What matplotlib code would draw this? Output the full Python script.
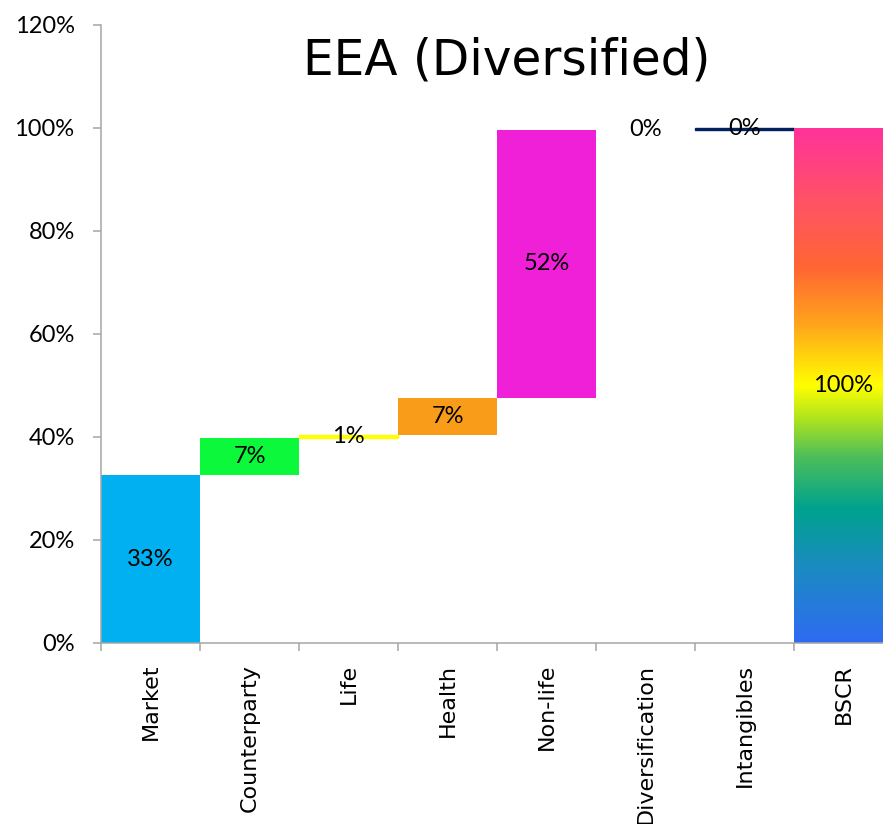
import matplotlib.pyplot as plt
import matplotlib.ticker as mticker
import numpy as np
from matplotlib.colors import LinearSegmentedColormap

# Waterfall of the diversified SCR, shares of BSCR in %
categories = ['Market', 'Counterparty', 'Life', 'Health', 'Non-life',
              'Diversification', 'Intangibles', 'BSCR']
values = [32.6, 7.2, 0.6, 7.1, 52.2, 0.0, 0.3, 100.0]
colors = ['#00B0F0', '#0BF83B', '#FFFF00', '#F99C1A', '#F020D8',
          '#FFFFFF', '#002060', None]

# gradient used for the BSCR total bar (bottom -> top)
rainbow = LinearSegmentedColormap.from_list('rainbow_bar', [
    (0.00, '#2F6BF2'),
    (0.15, '#1A8CC0'),
    (0.26, '#00A28E'),
    (0.36, '#4CBE5A'),
    (0.44, '#B5E61D'),
    (0.50, '#FFFF00'),
    (0.62, '#FFA41C'),
    (0.73, '#FF6633'),
    (0.86, '#FF5266'),
    (1.00, '#FF3399'),
])

fig = plt.figure(figsize=(8.83, 8.24), dpi=100)
ax = fig.add_axes([0.1144, 0.2197, 0.8856, 0.75])

x = np.arange(len(categories))
bottoms = []
running = 0.0
for v in values[:-1]:
    bottoms.append(running)
    running += v
bottoms.append(0.0)

for i, (v, b, c) in enumerate(zip(values, bottoms, colors)):
    if categories[i] == 'BSCR':
        grad = np.linspace(0, 1, 256).reshape(-1, 1)
        ax.imshow(grad, cmap=rainbow, origin='lower', aspect='auto',
                  extent=[i - 0.5, i + 0.5, b, b + v], zorder=2)
    elif categories[i] in ('Intangibles', 'Life'):
        ax.bar(i, v, bottom=b, width=1.0, color=c, edgecolor=c,
               linewidth=1.0, zorder=2)
    elif v > 0:
        ax.bar(i, v, bottom=b, width=1.0, color=c, linewidth=0, zorder=2)

    ax.text(i, b + v / 2, f'{v:.0f}%', ha='center', va='center',
            fontsize=17, family=['Lato', 'DejaVu Sans'], color='black',
            zorder=3)

ax.set_xlim(-0.5, 7.399)
ax.set_ylim(0, 120)

ax.yaxis.set_major_locator(mticker.MultipleLocator(20))
ax.yaxis.set_major_formatter(mticker.FuncFormatter(lambda v, p: f'{v:.0f}%'))
ax.tick_params(axis='y', length=6, width=1.1, color='#A6A6A6',
               labelsize=17, pad=13)
for lab in ax.get_yticklabels():
    lab.set_family(['Lato', 'DejaVu Sans'])

ax.set_xticks(x)
ax.set_xticklabels(categories, rotation=90, fontsize=16)
ax.set_xticks(np.arange(len(categories)) - 0.5, minor=True)
ax.tick_params(axis='x', which='major', length=0, pad=15)
ax.tick_params(axis='x', which='minor', length=6, width=1.1,
               color='#A6A6A6')

for side in ['top', 'right']:
    ax.spines[side].set_visible(False)
for side in ['left', 'bottom']:
    ax.spines[side].set_color('#A6A6A6')
    ax.spines[side].set_linewidth(1.1)

fig.text(0.574, 0.909, 'EEA (Diversified)', ha='center', va='baseline',
         fontsize=35)

fig.savefig('out.png', dpi=100)
